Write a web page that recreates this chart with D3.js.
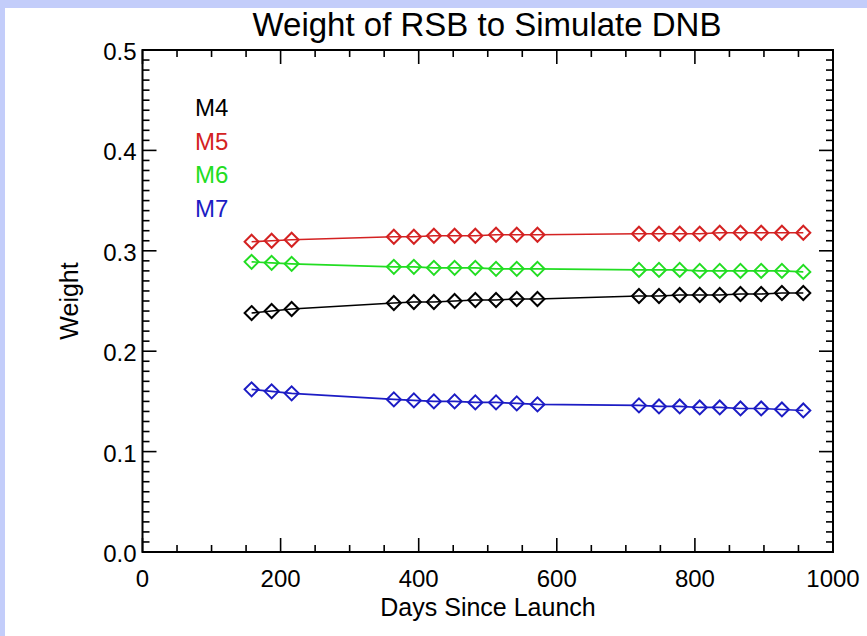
<!DOCTYPE html>
<html>
<head>
<meta charset="utf-8">
<script src="https://cdn.jsdelivr.net/npm/d3@7/dist/d3.min.js"></script>
<style>
  html, body { margin: 0; padding: 0; background: #c3cdfa; }
  svg { display: block; }
  text { font-family: "Liberation Sans", Arial, sans-serif; }
</style>
</head>
<body>
<svg id="chart" width="867" height="636"></svg>
<script>
// Days since launch for each weight estimate
const days = [158, 187, 216, 364, 393, 422, 452, 482, 512, 542, 572,
              719, 748, 778, 807, 836, 866, 896, 926, 957];

// RSB band weights used to simulate the DNB response
const m4 = [0.238, 0.240, 0.242, 0.248, 0.249, 0.249, 0.250, 0.251, 0.251, 0.252, 0.252,
            0.255, 0.255, 0.256, 0.256, 0.256, 0.257, 0.257, 0.258, 0.258];
const m5 = [0.309, 0.310, 0.311, 0.314, 0.314, 0.315, 0.315, 0.315, 0.316, 0.316, 0.316,
            0.317, 0.317, 0.317, 0.317, 0.318, 0.318, 0.318, 0.318, 0.318];
const m6 = [0.289, 0.288, 0.287, 0.284, 0.284, 0.283, 0.283, 0.283, 0.282, 0.282, 0.282,
            0.281, 0.281, 0.281, 0.280, 0.280, 0.280, 0.280, 0.280, 0.279];
const m7 = [0.162, 0.160, 0.158, 0.152, 0.151, 0.150, 0.150, 0.149, 0.149, 0.148, 0.147,
            0.146, 0.145, 0.145, 0.144, 0.144, 0.143, 0.143, 0.142, 0.141];

const bandNames = ["M4", "M5", "M6", "M7"];
const bandColors = ["#000000", "#d42222", "#22dd22", "#1c1cc4"];

const xTicks = [0, 200, 400, 600, 800, 1000];
const yTicks = [0.0, 0.1, 0.2, 0.3, 0.4, 0.5];

const series = [m4, m5, m6, m7].map((vals, i) => ({
  name: bandNames[i],
  color: bandColors[i],
  points: vals.map((v, j) => ({ day: days[j], w: v }))
}));

const svg = d3.select("#chart");

// white page area inside the blue frame
svg.append("rect").attr("x", 5).attr("y", 8).attr("width", 862).attr("height", 628).attr("fill", "#ffffff");

const plotL = 142.5, plotR = 833, plotT = 50, plotB = 552;
const x = d3.scaleLinear().domain([0, 1000]).range([plotL, plotR]);
const y = d3.scaleLinear().domain([0, 0.5]).range([plotB, plotT]);

const axisColor = "#000";
const g = svg.append("g");

// inward ticks on all four sides
function ticks(values, len, orient) {
  values.forEach(v => {
    if (orient === "x") {
      const px = x(v);
      g.append("line").attr("x1", px).attr("x2", px).attr("y1", plotB).attr("y2", plotB - len)
        .attr("stroke", axisColor).attr("stroke-width", 1.6);
      g.append("line").attr("x1", px).attr("x2", px).attr("y1", plotT).attr("y2", plotT + len)
        .attr("stroke", axisColor).attr("stroke-width", 1.6);
    } else {
      const py = y(v);
      g.append("line").attr("x1", plotL).attr("x2", plotL + len).attr("y1", py).attr("y2", py)
        .attr("stroke", axisColor).attr("stroke-width", 1.6);
      g.append("line").attr("x1", plotR).attr("x2", plotR - len).attr("y1", py).attr("y2", py)
        .attr("stroke", axisColor).attr("stroke-width", 1.6);
    }
  });
}
ticks(d3.range(0, 1001, 50).filter(v => v % 200 !== 0), 7, "x");
ticks(xTicks, 14, "x");
ticks(d3.range(0, 51).map(i => i / 100).filter((v, i) => i % 10 !== 0), 7, "y");
ticks(yTicks, 14, "y");

g.append("rect").attr("x", plotL).attr("y", plotT).attr("width", plotR - plotL).attr("height", plotB - plotT)
  .attr("fill", "none").attr("stroke", axisColor).attr("stroke-width", 2);

// tick labels
g.selectAll(".xl").data(xTicks).enter().append("text")
  .attr("x", d => x(d)).attr("y", plotB + 35)
  .attr("text-anchor", "middle").attr("font-size", 24).text(d => d3.format("d")(d));
g.selectAll(".yl").data(yTicks).enter().append("text")
  .attr("x", plotL - 6).attr("y", d => y(d) + 10)
  .attr("text-anchor", "end").attr("font-size", 24).text(d => d3.format(".1f")(d));

// titles
svg.append("text").attr("x", 487).attr("y", 36).attr("text-anchor", "middle")
  .attr("font-size", 33).text("Weight of RSB to Simulate DNB");
svg.append("text").attr("x", 488).attr("y", 616).attr("text-anchor", "middle")
  .attr("font-size", 25).text("Days Since Launch");
svg.append("text").attr("transform", "translate(78,301) rotate(-90)").attr("text-anchor", "middle")
  .attr("font-size", 25).text("Weight");

// series lines and diamond markers
const line = d3.line().x(d => x(d.day)).y(d => y(d.w));
const diamond = d3.symbol().type(d3.symbolDiamond2).size(125);

series.forEach(s => {
  const sg = svg.append("g");
  sg.append("path").attr("d", line(s.points)).attr("fill", "none")
    .attr("stroke", s.color).attr("stroke-width", 1.6);
  sg.selectAll("path.m").data(s.points).enter().append("path").attr("class", "m")
    .attr("d", diamond)
    .attr("transform", d => `translate(${x(d.day)},${y(d.w)})`)
    .attr("fill", "none").attr("stroke", s.color).attr("stroke-width", 2);
});

// legend
svg.selectAll(".lg").data(series).enter().append("text")
  .attr("x", 195).attr("y", (d, i) => 116 + i * 33.5)
  .attr("font-size", 24).attr("fill", d => d.color).text(d => d.name);
</script>
</body>
</html>
